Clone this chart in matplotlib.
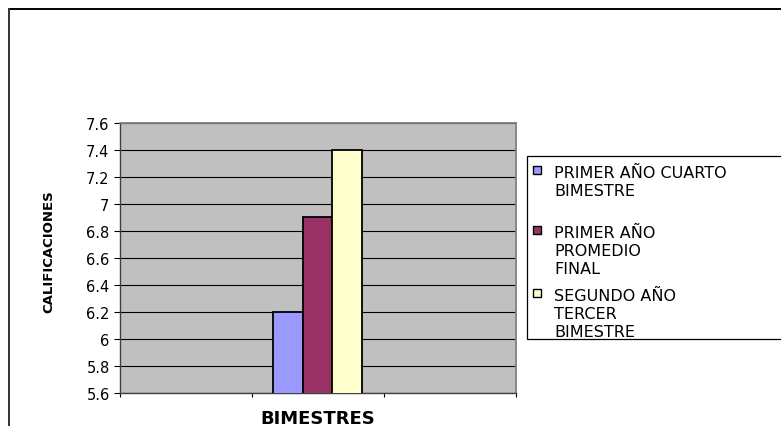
import numpy as np
import matplotlib.pyplot as plt
from matplotlib.patches import Rectangle
from matplotlib.lines import Line2D

plt.rcParams['font.family'] = ['DejaVu Sans']

# calificaciones por periodo
series = ['PRIMER AÑO CUARTO\nBIMESTRE',
          'PRIMER AÑO\nPROMEDIO\nFINAL',
          'SEGUNDO AÑO\nTERCER\nBIMESTRE']
values = [6.2, 6.9, 7.4]
colors = ['#9999FF', '#993366', '#FFFFCC']
yticks = [5.6, 5.8, 6, 6.2, 6.4, 6.6, 6.8, 7, 7.2, 7.4, 7.6]
ytick_labels = ['5.6', '5.8', '6', '6.2', '6.4', '6.6', '6.8', '7', '7.2', '7.4', '7.6']

W, H = 781, 427
fig = plt.figure(figsize=(W / 100, H / 100), dpi=100)

def px(x, y):
    # pixel position (from top-left) -> figure fraction
    return x / W, 1 - y / H

ax = fig.add_axes([120 / W, 1 - 394 / H, 396 / W, 270 / H])
ax.set_facecolor('#C0C0C0')

width = 0.225
center = 1.496
xs = center + (np.arange(len(values)) - 1) * width
ax.bar(xs, values, width=width, color=colors, edgecolor='black',
       linewidth=1.3, zorder=3)

ax.set_ylim(5.6, 7.6)
ax.set_yticks(yticks)
ax.set_yticklabels(ytick_labels)
ax.set_xlim(0, 3)
ax.set_xticks([0, 1, 2, 3])
ax.set_xticklabels([])
ax.yaxis.grid(True, color='black', linewidth=0.8)
ax.set_axisbelow(True)
ax.tick_params(axis='y', direction='out', length=4.5, width=0.8, pad=3,
               labelsize=10.5, colors='black')
ax.tick_params(axis='x', direction='out', length=3, width=0.8)

for side in ['top', 'right']:
    ax.spines[side].set_color('#808080')
    ax.spines[side].set_linewidth(1.3)
for side in ['left', 'bottom']:
    ax.spines[side].set_color('#404040')
    ax.spines[side].set_linewidth(1.0)

fig.text(*px(49, 252), 'CALIFICACIONES', fontsize=9.5, fontweight='bold',
         rotation=90, ha='center', va='center')
fig.text(*px(318, 419), 'BIMESTRES', fontsize=13, fontweight='bold',
         ha='center', va='center')

# outer frame (top and left edges)
fig.add_artist(Line2D([9 / W, 1], [1 - 10 / H] * 2, color='black',
                      linewidth=1.4, transform=fig.transFigure))
fig.add_artist(Line2D([9 / W] * 2, [1 - 10 / H, 0], color='#333333',
                      linewidth=1.4, transform=fig.transFigure))

# legend box
lx0, ly0 = px(527, 340)
lx1, ly1 = px(790, 157)
fig.add_artist(Rectangle((lx0, ly0), lx1 - lx0, ly1 - ly0, facecolor='white',
                         edgecolor='black', linewidth=0.9,
                         transform=fig.transFigure))
first_base = [178, 238, 301]
for label, col, yb in zip(series, colors, first_base):
    sx, sy = px(533, yb - 3)
    fig.add_artist(Rectangle((sx, sy), 8 / W, 8 / H, facecolor=col,
                             edgecolor='black', linewidth=1.0,
                             transform=fig.transFigure))
    for k, line in enumerate(label.split('\n')):
        fig.text(*px(554, yb + 18 * k), line, fontsize=11.5,
                 ha='left', va='baseline')

fig.savefig('out.png', dpi=100)
